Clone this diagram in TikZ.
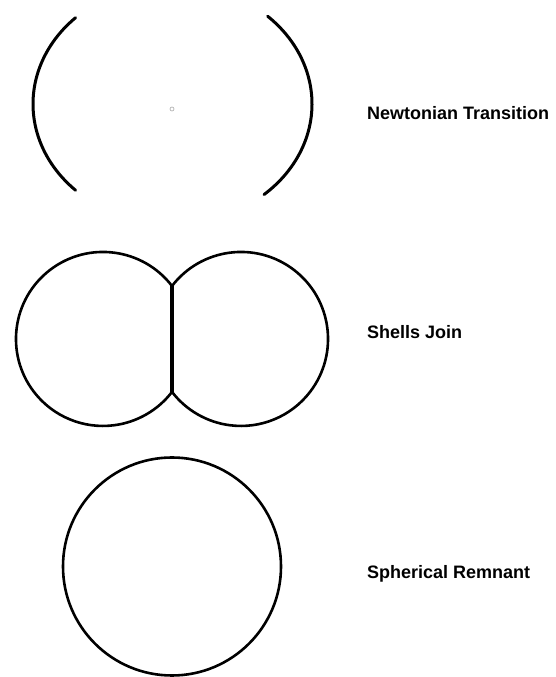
\documentclass[tikz,border=0pt]{standalone}
\usepackage{fontspec}
\setmainfont{Liberation Sans}
\begin{document}
\begin{tikzpicture}[x=1pt,y=1pt,
  shell/.style={draw=black,line width=2.6pt},
  arcline/.style={draw=black,line width=3pt,line cap=round},
  joinline/.style={draw=black,line width=3.4pt},
  lbl/.style={anchor=base west,inner sep=0pt,font=\fontsize{18}{20}\selectfont\bfseries}]
\useasboundingbox (0,0) rectangle (555,677);
% Newtonian transition
\coordinate (tc) at (172.5,573);
\draw[arcline] ([shift={(134:139.5 and 120)}]tc) arc[start angle=134,end angle=226,x radius=139.5,y radius=120];
\draw[arcline] ([shift={(-49:139.5 and 120)}]tc) arc[start angle=-49,end angle=47,x radius=139.5,y radius=120];
\node[draw=gray!70,line width=0.6pt,circle,minimum size=4pt,inner sep=0pt] (dot) at (172,568) {};
\node[lbl] (t1) at (367,557) {Newtonian Transition};
% Shells join
\coordinate (lc) at (103,338);
\coordinate (rc) at (241,338);
\coordinate (jt) at (172,391);
\coordinate (jb) at (172,285);
\draw[shell] (jt) arc[start angle=37.5,end angle=322.5,radius=87];
\draw[shell] (jt) arc[start angle=142.5,end angle=-142.5,radius=87];
\draw[joinline] (jt) -- (jb);
\node[lbl] (t2) at (367,338) {Shells Join};
% Spherical remnant
\node[draw=black,line width=2.6pt,circle,minimum size=218pt,inner sep=0pt] (sphere) at (172,110.5) {};
\node[lbl] (t3) at (367,98) {Spherical Remnant};
\end{tikzpicture}
\end{document}
